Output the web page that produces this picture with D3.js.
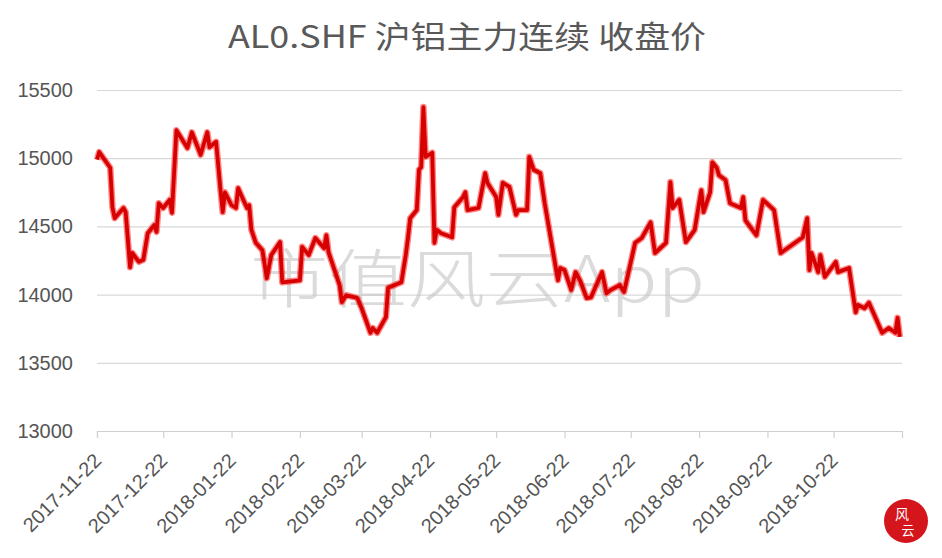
<!DOCTYPE html>
<html>
<head>
<meta charset="utf-8">
<script src="https://cdn.jsdelivr.net/npm/d3@7"></script>
<style>
    body { margin: 0; background: #fff; }
    #chart { width: 942px; height: 558px; }
</style>
</head>
<body>
<div id="chart"></div>
<script>
// AL0.SHF 收盘价
var trade_dates = [
    "2017-11-22", "2017-11-23", "2017-11-28", "2017-11-29", "2017-11-30",
    "2017-12-04", "2017-12-05", "2017-12-07", "2017-12-08", "2017-12-11", "2017-12-13", "2017-12-15",
    "2017-12-18", "2017-12-19", "2017-12-20", "2017-12-22", "2017-12-25", "2017-12-26", "2017-12-28",
    "2018-01-02", "2018-01-04", "2018-01-08", "2018-01-11", "2018-01-12", "2018-01-15", "2018-01-17",
    "2018-01-18", "2018-01-19", "2018-01-22", "2018-01-24", "2018-01-25", "2018-01-29", "2018-01-30", "2018-01-31",
    "2018-02-02", "2018-02-05", "2018-02-07", "2018-02-09", "2018-02-13", "2018-02-14", "2018-02-22", "2018-02-23", "2018-02-26",
    "2018-03-01", "2018-03-05", "2018-03-06", "2018-03-07", "2018-03-12", "2018-03-13", "2018-03-15",
    "2018-03-19", "2018-03-20", "2018-03-22", "2018-03-26", "2018-03-27", "2018-03-29",
    "2018-04-02", "2018-04-03", "2018-04-09", "2018-04-11", "2018-04-12", "2018-04-13", "2018-04-16",
    "2018-04-17", "2018-04-18", "2018-04-19", "2018-04-20", "2018-04-23", "2018-04-24", "2018-04-25", "2018-04-27",
    "2018-05-02", "2018-05-03", "2018-05-07", "2018-05-08", "2018-05-09", "2018-05-14", "2018-05-17",
    "2018-05-18", "2018-05-22", "2018-05-23", "2018-05-25", "2018-05-28", "2018-05-31",
    "2018-06-01", "2018-06-05", "2018-06-06", "2018-06-08", "2018-06-11", "2018-06-13", "2018-06-19",
    "2018-06-20", "2018-06-22", "2018-06-25", "2018-06-27", "2018-06-29",
    "2018-07-02", "2018-07-04", "2018-07-09", "2018-07-11", "2018-07-13", "2018-07-17", "2018-07-19",
    "2018-07-24", "2018-07-27", "2018-07-31",
    "2018-08-02", "2018-08-07", "2018-08-09", "2018-08-10", "2018-08-13", "2018-08-16", "2018-08-20",
    "2018-08-22", "2018-08-23", "2018-08-24", "2018-08-27", "2018-08-28", "2018-08-30", "2018-08-31",
    "2018-09-03", "2018-09-05", "2018-09-10", "2018-09-11", "2018-09-12", "2018-09-17", "2018-09-20",
    "2018-09-25", "2018-09-28",
    "2018-10-08", "2018-10-10", "2018-10-11", "2018-10-12", "2018-10-15", "2018-10-16", "2018-10-18",
    "2018-10-23", "2018-10-24", "2018-10-29",
    "2018-11-01", "2018-11-02", "2018-11-05", "2018-11-07", "2018-11-13", "2018-11-16", "2018-11-19",
    "2018-11-20", "2018-11-21"
];

var close_prices = [
    14990, 15045, 14930, 14640, 14560,
    14635, 14605, 14200, 14305, 14240, 14255, 14450,
    14510, 14460, 14670, 14635, 14695, 14600, 15205,
    15075, 15190, 15025, 15190, 15080, 15120, 14765,
    14605, 14750, 14655, 14635, 14780, 14635, 14655, 14475,
    14380, 14325, 14120, 14290, 14385, 14090, 14105, 14350, 14290,
    14415, 14340, 14435, 14310, 14070, 13945, 13995,
    13980, 13975, 13900, 13720, 13755, 13720,
    13835, 14050, 14090, 14290, 14415, 14560, 14620,
    14915, 14935, 15375, 15010, 15040, 14380, 14475, 14450,
    14420, 14640, 14715, 14750, 14620, 14635, 14890,
    14820, 14715, 14585, 14820, 14790, 14585,
    14620, 14620, 15010, 14915, 14890, 14670, 14105,
    14195, 14180, 14035, 14165, 14105,
    13975, 13980, 14165, 14010, 14035, 14070, 14020,
    14380, 14415, 14530,
    14305, 14380, 14825, 14635, 14695, 14385, 14475,
    14670, 14765, 14605, 14750, 14970, 14930, 14875,
    14840, 14670, 14635, 14715, 14545, 14435, 14695,
    14620, 14305,
    14420, 14560, 14180, 14305, 14165, 14290, 14130,
    14240, 14165, 14195,
    13870, 13925, 13900, 13940, 13720, 13755, 13720,
    13830, 13690
];

var tick_dates = ["2017-11-22", "2017-12-22", "2018-01-22", "2018-02-22", "2018-03-22", "2018-04-22",
    "2018-05-22", "2018-06-22", "2018-07-22", "2018-08-22", "2018-09-22", "2018-10-22"];
var y_ticks = [13000, 13500, 14000, 14500, 15000, 15500];

var title_text = "AL0.SHF 沪铝主力连续 收盘价";
var watermark_text = "市值风云App";

var parse_date = d3.timeParse("%Y-%m-%d");
var fmt_date = d3.timeFormat("%Y-%m-%d");

var total_w = 942, total_h = 558;
var margin = {top: 90, right: 40, bottom: 127, left: 97};
var width = total_w - margin.left - margin.right;
var height = total_h - margin.top - margin.bottom;

var data = trade_dates.map(function(d, i) {
    return {date: parse_date(d), close: close_prices[i]};
});

var svg = d3.select("#chart").append("svg")
    .attr("width", total_w)
    .attr("height", total_h);

svg.append("rect")
    .attr("width", total_w)
    .attr("height", total_h)
    .attr("fill", "#fff");

svg.append("text")
    .text(title_text)
    .attr("x", 228)
    .attr("y", 48)
    .attr("textLength", 478)
    .attr("lengthAdjust", "spacingAndGlyphs")
    .attr("font-family", "'Noto Sans CJK SC', 'Noto Sans', sans-serif")
    .attr("font-size", 31)
    .attr("fill", "#595959");

var g = svg.append("g")
    .attr("transform", "translate(" + margin.left + "," + margin.top + ")");

var x = d3.scaleTime()
    .domain([parse_date("2017-11-22"), parse_date("2018-11-22")])
    .range([0, width]);

var y = d3.scaleLinear()
    .domain([13000, 15500])
    .range([height, 0]);

// gridlines + y labels
var y_axis = g.append("g")
    .attr("class", "y_axis")
    .call(d3.axisLeft(y).tickValues(y_ticks).tickSize(-width).tickPadding(24).tickFormat(d3.format("d")));
y_axis.select(".domain").remove();
y_axis.selectAll(".tick line")
    .attr("stroke", "#d9d9d9")
    .attr("stroke-width", 1.2);
y_axis.selectAll(".tick text")
    .attr("font-family", "'Liberation Sans', Arial, sans-serif")
    .attr("font-size", 20)
    .attr("fill", "#555");

// bottom axis
var x_axis = g.append("g")
    .attr("class", "x_axis")
    .attr("transform", "translate(0," + height + ")")
    .call(d3.axisBottom(x).tickValues(tick_dates.map(parse_date)).tickSize(7).tickFormat(fmt_date));
x_axis.select(".domain")
    .attr("stroke", "#d0d0d0")
    .attr("stroke-width", 1.2);
x_axis.selectAll(".tick line")
    .attr("stroke", "#d0d0d0")
    .attr("stroke-width", 1.2);
x_axis.selectAll(".tick text")
    .attr("font-family", "'Liberation Sans', Arial, sans-serif")
    .attr("font-size", 20)
    .attr("fill", "#555")
    .attr("text-anchor", "end")
    .attr("dy", null)
    .attr("y", null)
    .attr("transform", "translate(5,31) rotate(-45)");

// watermark
g.append("text")
    .text(watermark_text)
    .attr("x", 153)
    .attr("y", 212)
    .attr("textLength", 455)
    .attr("lengthAdjust", "spacingAndGlyphs")
    .attr("font-family", "'Noto Sans CJK SC', sans-serif")
    .attr("font-weight", 300)
    .attr("font-size", 64)
    .attr("fill", "#c8c8c8")
    .attr("opacity", 0.65);

var line = d3.line()
    .x(function(d) { return x(d.date); })
    .y(function(d) { return y(d.close); });

g.append("path")
    .datum(data)
    .attr("d", line)
    .attr("fill", "none")
    .attr("stroke", "#ff2020")
    .attr("stroke-opacity", 0.55)
    .attr("stroke-width", 6.5)
    .attr("stroke-linejoin", "round");

g.append("path")
    .datum(data)
    .attr("d", line)
    .attr("fill", "none")
    .attr("stroke", "#d60000")
    .attr("stroke-width", 3.8)
    .attr("stroke-linejoin", "round");

// logo stamp in the corner
var logo = svg.append("g")
    .attr("transform", "translate(906,521)");
logo.append("circle")
    .attr("r", 22)
    .attr("fill", "#d4161c");
logo.append("text")
    .text("风")
    .attr("x", -4)
    .attr("y", -2)
    .attr("text-anchor", "middle")
    .attr("font-family", "'Noto Sans CJK SC', sans-serif")
    .attr("font-size", 14)
    .attr("fill", "#fff");
logo.append("text")
    .text("云")
    .attr("x", 2)
    .attr("y", 14)
    .attr("text-anchor", "middle")
    .attr("font-family", "'Noto Sans CJK SC', sans-serif")
    .attr("font-size", 13)
    .attr("fill", "#fff");
</script>
</body>
</html>
